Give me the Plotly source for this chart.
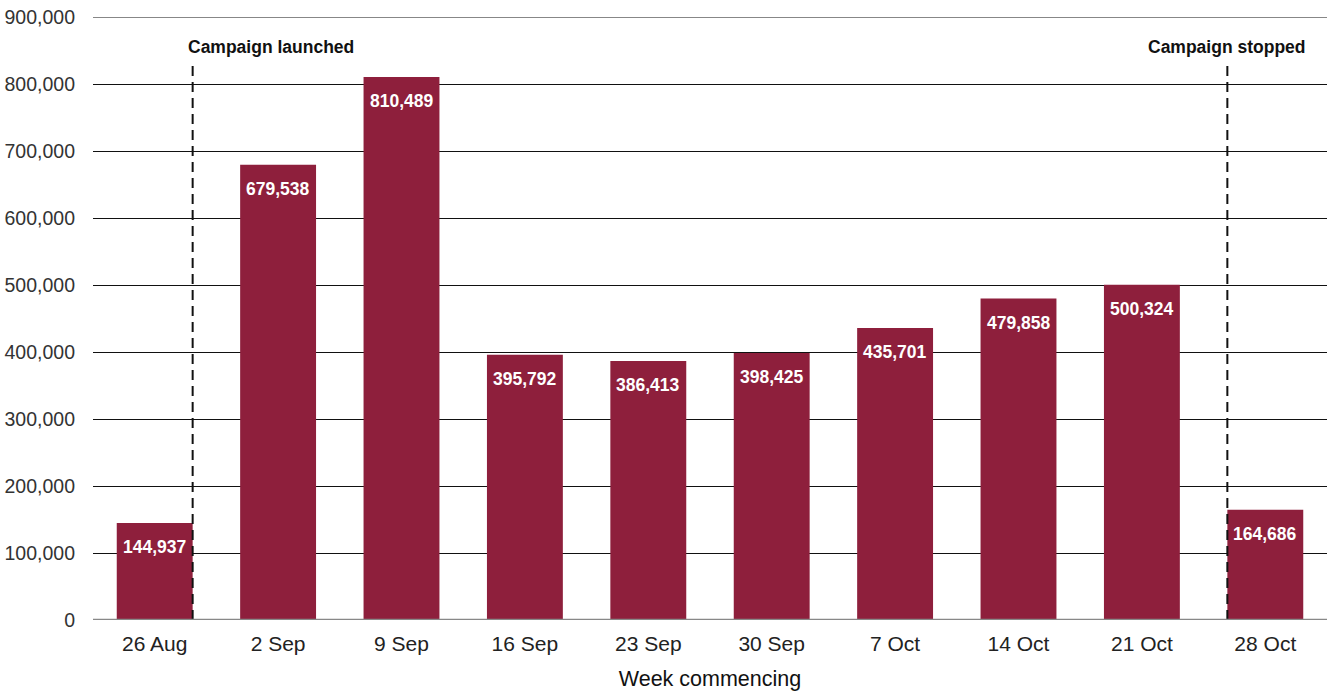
import plotly.graph_objects as go

weeks = ["26 Aug", "2 Sep", "9 Sep", "16 Sep", "23 Sep", "30 Sep",
         "7 Oct", "14 Oct", "21 Oct", "28 Oct"]
visits = [144937, 679538, 810489, 395792, 386413, 398425,
          435701, 479858, 500324, 164686]
y_ticks = [0, 100000, 200000, 300000, 400000, 500000,
           600000, 700000, 800000, 900000]

BAR = "#8E1F3C"
FONT = "Liberation Sans, Arial, sans-serif"
BARGAP = 0.385
half_bar = (1 - BARGAP) / 2

x_idx = list(range(len(weeks)))

fig = go.Figure(go.Bar(
    x=x_idx,
    y=visits,
    marker=dict(color=BAR, line=dict(width=0)),
    hoverinfo="x+y",
))

# value labels just inside the top of each bar
for xi, v in zip(x_idx, visits):
    fig.add_annotation(x=xi, y=v, yshift=-24, text=f"<b>{v:,}</b>", showarrow=False,
                       font=dict(size=17.5, color="white", family=FONT),
                       xref="x", yref="y")

# campaign start / end markers
line_top = 828000
for xpos in (x_idx[0] + half_bar, x_idx[-1] - half_bar):
    fig.add_shape(type="line", x0=xpos, x1=xpos, y0=0, y1=line_top,
                  xref="x", yref="y",
                  line=dict(color="#111111", width=2, dash="10px,6px"))

fig.add_annotation(x=0.94, y=855000, text="<b>Campaign launched</b>", showarrow=False,
                   font=dict(size=17.5, color="#111111", family=FONT), xref="x", yref="y")
fig.add_annotation(x=8.686, y=855000, text="<b>Campaign stopped</b>", showarrow=False,
                   font=dict(size=17.5, color="#111111", family=FONT), xref="x", yref="y")

fig.update_layout(
    width=1327, height=691,
    margin=dict(l=93, r=0, t=17, b=71),
    paper_bgcolor="white", plot_bgcolor="white",
    bargap=BARGAP,
    showlegend=False,
    font=dict(family=FONT, color="#222222"),
)
fig.update_xaxes(
    tickmode="array", tickvals=x_idx, ticktext=weeks,
    range=[-0.5, 9.5],
    showgrid=False, showline=False, zeroline=False,
    ticks="", tickfont=dict(size=21, color="#222222", family=FONT),
    ticklabelstandoff=9,
    title=dict(text="Week commencing", font=dict(size=21.5, color="#111111", family=FONT),
               standoff=18),
)
fig.update_yaxes(
    range=[0, 900000],
    tickmode="array", tickvals=y_ticks,
    ticktext=[f"{v:,}" for v in y_ticks],
    showgrid=True, gridcolor="#111111", gridwidth=1,
    zeroline=False, showline=False,
    ticks="", ticklabelstandoff=17,
    tickfont=dict(size=19.5, color="#333333", family=FONT),
)
# top rule and baseline
fig.add_shape(type="line", x0=0, x1=1, xref="paper", y0=900000, y1=900000, yref="y",
              line=dict(color="#111111", width=1))
fig.add_shape(type="line", x0=0, x1=1, xref="paper", y0=0, y1=0, yref="y",
              line=dict(color="#888888", width=2.5))

fig.write_html("out.html")
